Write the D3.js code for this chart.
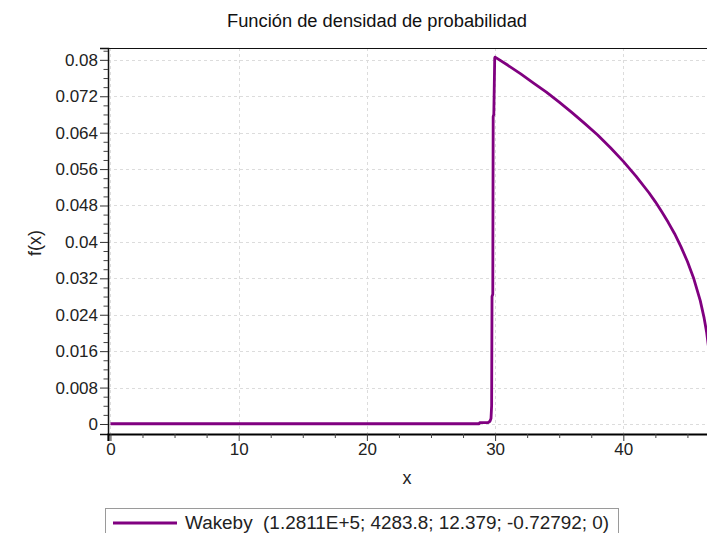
<!DOCTYPE html>
<html>
<head>
<meta charset="utf-8">
<script src="https://cdn.jsdelivr.net/npm/d3@7"></script>
<style>
  html, body { margin: 0; padding: 0; background: #fff; overflow: hidden; }
  svg { display: block; font-family: "Liberation Sans", Arial, sans-serif; }
</style>
</head>
<body>
<svg id="chart" width="707" height="533"></svg>
<script>
// Wakeby probability density, sampled along x
const curveX = [0, 5, 10, 15, 20, 25, 28.75, 28.8, 29.45, 29.6, 29.68, 29.73, 29.76, 29.82, 29.85, 29.9, 29.97,
  30, 31, 32, 33, 34, 35, 36, 37, 38, 39, 40, 41, 42, 42.5, 43, 43.5, 44, 44.5, 45, 45.5, 46, 46.3, 46.5, 46.7, 46.8, 46.9, 46.91];
const curveY = [0.00005, 0.00005, 0.00005, 0.00005, 0.00005, 0.00005, 0.00005, 0.0003, 0.0003, 0.0006, 0.0012, 0.004, 0.028, 0.0285, 0.0675, 0.068, 0.0804,
  0.0806, 0.0788, 0.0769, 0.0749, 0.0729, 0.0707, 0.0684, 0.0660, 0.0635, 0.0607, 0.0577, 0.0544, 0.0508, 0.0488, 0.0466, 0.0443, 0.0418, 0.0389, 0.0357, 0.0319, 0.0271, 0.0233, 0.0201, 0.0157, 0.0121, 0.0041, 0];

const xTicks = [0, 10, 20, 30, 40];
const xMinorTicks = [2.5, 5, 7.5, 12.5, 15, 17.5, 22.5, 25, 27.5, 32.5, 35, 37.5, 42.5, 45, 47.5];
const yTicks = [0, 0.008, 0.016, 0.024, 0.032, 0.04, 0.048, 0.056, 0.064, 0.072, 0.08];
const yTickLabels = ["0", "0.008", "0.016", "0.024", "0.032", "0.04", "0.048", "0.056", "0.064", "0.072", "0.08"];
const yMinorTicks = d3.range(0, 42).map(i => i * 0.002).filter(v => Math.round(v * 1000) % 8 !== 0);

const titleText = "Función de densidad de probabilidad";
const xLabel = "x";
const yLabel = "f(x)";
const legendText = "Wakeby  (1.2811E+5; 4283.8; 12.379; -0.72792; 0)";

const purple = "#800080";

const svg = d3.select("#chart");
const plot = { left: 108, top: 48, right: 740, bottom: 434 };

const x = d3.scaleLinear().domain([-0.19, 49.1]).range([plot.left, plot.right]);
const y = d3.scaleLinear().domain([-0.0022, 0.0826]).range([plot.bottom, plot.top]);

svg.append("rect").attr("width", 707).attr("height", 533).attr("fill", "#fff");

// grid
const grid = svg.append("g").attr("stroke", "#dcdcdc").attr("stroke-width", 1).attr("stroke-dasharray", "3,3");
grid.selectAll("line.h").data(yTicks).join("line")
  .attr("x1", plot.left).attr("x2", plot.right)
  .attr("y1", d => Math.round(y(d)) + 0.5).attr("y2", d => Math.round(y(d)) + 0.5);
grid.selectAll("line.v").data(xTicks).join("line")
  .attr("y1", plot.top).attr("y2", plot.bottom)
  .attr("x1", d => Math.round(x(d)) + 0.5).attr("x2", d => Math.round(x(d)) + 0.5);

// curve
const line = d3.line().x((d, i) => x(curveX[i])).y(d => y(d));
svg.append("path")
  .datum(curveY)
  .attr("fill", "none")
  .attr("stroke", purple)
  .attr("stroke-width", 2.8)
  .attr("stroke-linejoin", "round")
  .attr("d", line);

// frame
svg.append("line").attr("x1", plot.left).attr("x2", plot.right).attr("y1", plot.top + 0.5).attr("y2", plot.top + 0.5)
  .attr("stroke", "#111").attr("stroke-width", 1);

// y axis
const yAxis = d3.axisLeft(y).tickValues(yTicks).tickSize(8).tickFormat((d, i) => yTickLabels[i]);
const gy = svg.append("g").attr("transform", `translate(${plot.left},0)`).call(yAxis);
gy.select(".domain").attr("stroke", "#111").attr("stroke-width", 1.5);
gy.selectAll(".tick line").attr("stroke", "#333");
gy.selectAll(".tick text").attr("font-size", 17).attr("fill", "#222").attr("x", -10)
  .attr("font-family", "'Liberation Sans', Arial, sans-serif");
const yMinor = d3.axisLeft(y).tickValues(yMinorTicks).tickSize(4.5).tickFormat("");
const gym = svg.append("g").attr("transform", `translate(${plot.left},0)`).call(yMinor);
gym.select(".domain").remove();
gym.selectAll(".tick line").attr("stroke", "#444");

// x axis
const xAxis = d3.axisBottom(x).tickValues(xTicks).tickSize(7).tickFormat(d3.format("d"));
const gx = svg.append("g").attr("transform", `translate(0,${plot.bottom})`).call(xAxis);
gx.select(".domain").attr("stroke", "#000").attr("stroke-width", 2.2);
gx.selectAll(".tick line").attr("stroke", "#333");
gx.selectAll(".tick text").attr("font-size", 17).attr("fill", "#222").attr("y", 9)
  .attr("font-family", "'Liberation Sans', Arial, sans-serif");
const xMinor = d3.axisBottom(x).tickValues(xMinorTicks).tickSize(4).tickFormat("");
const gxm = svg.append("g").attr("transform", `translate(0,${plot.bottom})`).call(xMinor);
gxm.select(".domain").remove();
gxm.selectAll(".tick line").attr("stroke", "#444");

// title and axis labels
svg.append("text").attr("x", 377).attr("y", 27).attr("text-anchor", "middle")
  .attr("font-size", 18).attr("fill", "#111")
  .attr("textLength", 300).attr("lengthAdjust", "spacingAndGlyphs")
  .text(titleText);
svg.append("text").attr("x", 407).attr("y", 484).attr("text-anchor", "middle")
  .attr("font-size", 18).attr("fill", "#222").text(xLabel);
svg.append("text").attr("transform", "translate(41,243) rotate(-90)").attr("text-anchor", "middle")
  .attr("font-size", 18).attr("fill", "#222").text(yLabel);

// legend
const lg = svg.append("g");
lg.append("rect").attr("x", 105.5).attr("y", 508.5).attr("width", 513).attr("height", 40)
  .attr("fill", "#fff").attr("stroke", "#9a9a9a");
lg.append("line").attr("x1", 113).attr("x2", 177).attr("y1", 523).attr("y2", 523)
  .attr("stroke", purple).attr("stroke-width", 2.8);
lg.append("text").attr("x", 185).attr("y", 529).attr("font-size", 18).attr("fill", "#222")
  .style("white-space", "pre")
  .attr("textLength", 424).attr("lengthAdjust", "spacingAndGlyphs")
  .text(legendText);
</script>
</body>
</html>
